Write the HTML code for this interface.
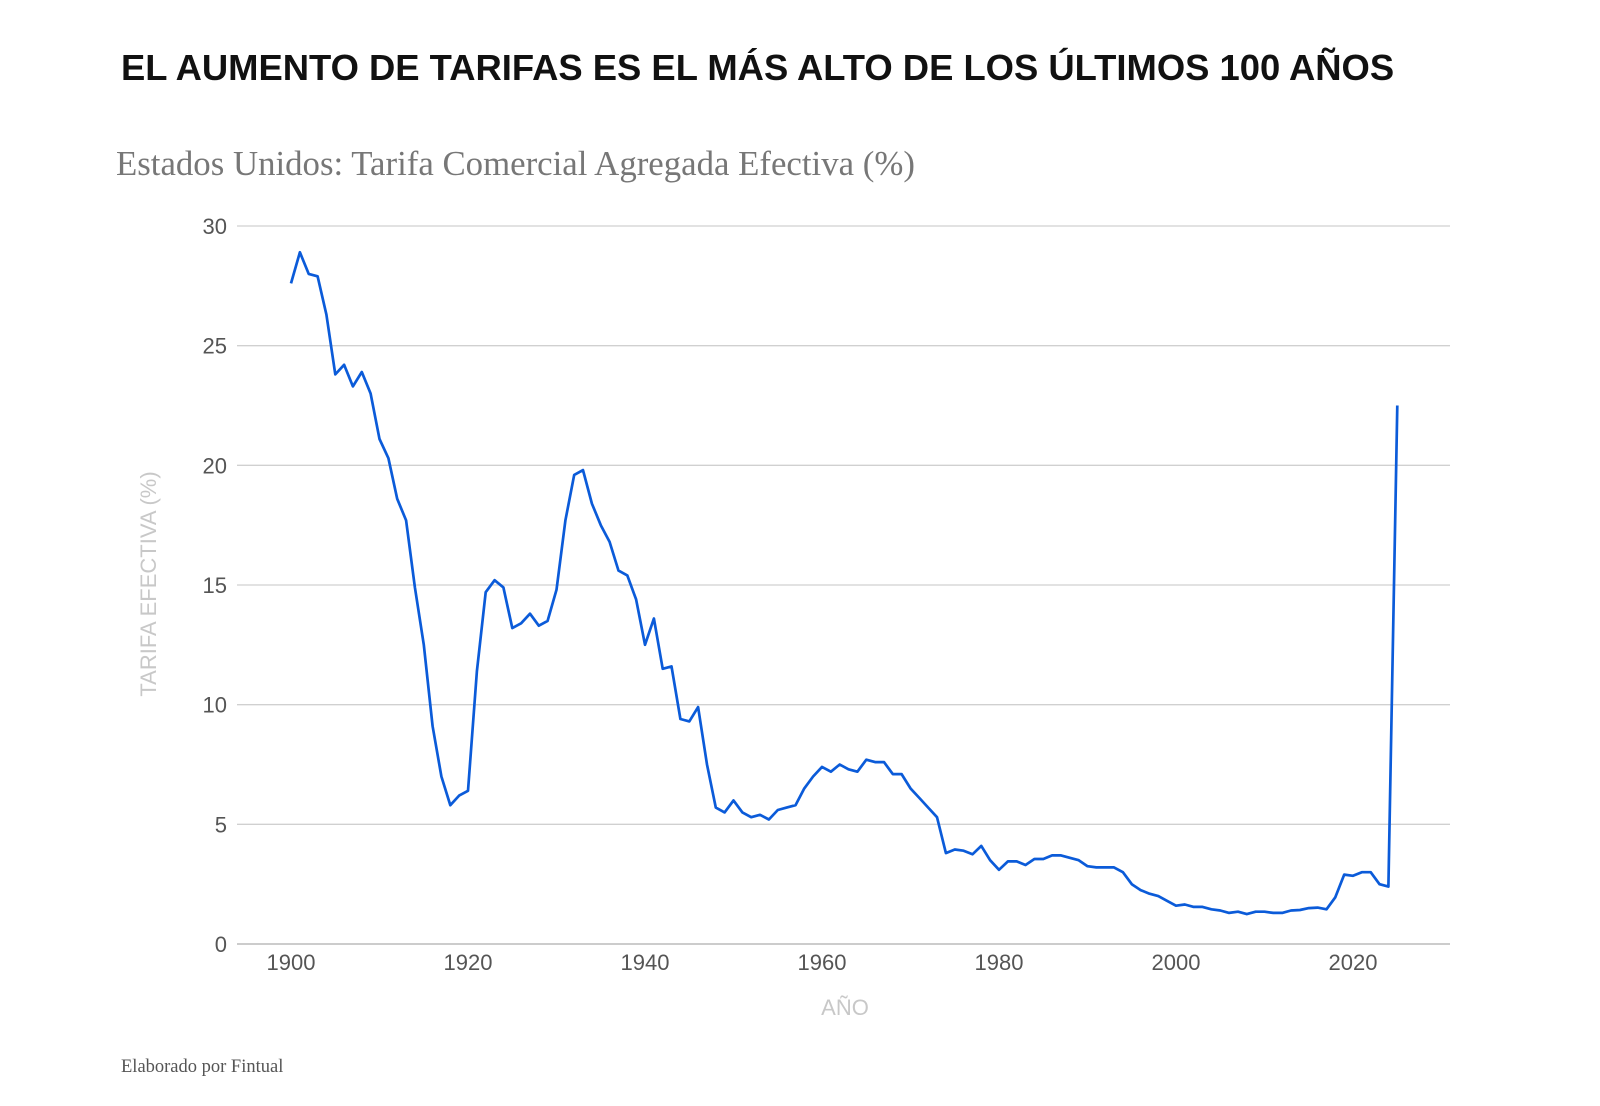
<!DOCTYPE html>
<html><head><meta charset="utf-8"><style>
body{margin:0;background:#fff;width:1600px;height:1106px;overflow:hidden}
svg{display:block}
</style></head><body>
<svg id="chart" width="1600" height="1106">
<text x="121" y="80" font-family="Liberation Sans, sans-serif" font-weight="bold" font-size="36.4" fill="#111">EL AUMENTO DE TARIFAS ES EL MÁS ALTO DE LOS ÚLTIMOS 100 AÑOS</text>
<text x="116" y="175" font-family="Liberation Serif, serif" font-size="34.8" fill="#777">Estados Unidos: Tarifa Comercial Agregada Efectiva (%)</text>
<g id="grid"></g><g id="yticks"></g><g id="xticks"></g>
<text x="0" y="0" transform="translate(156,584) rotate(-90)" text-anchor="middle" font-family="Liberation Sans, sans-serif" font-size="22" fill="#c8c8c8">TARIFA EFECTIVA (%)</text>
<text x="845" y="1015" text-anchor="middle" font-family="Liberation Sans, sans-serif" font-size="22" fill="#c8c8c8">AÑO</text>
<path id="line" fill="none" stroke="#0b5bd9" stroke-width="2.7" stroke-linejoin="round"/>
<text x="121" y="1072" font-family="Liberation Serif, serif" font-size="18.5" fill="#555">Elaborado por Fintual</text>
</svg>
<script>
const startYear = 1900;
const tariffValues = [27.6,28.9,28.0,27.9,26.3,23.8,24.2,23.3,23.9,23.0,21.1,20.3,18.6,17.7,14.9,12.5,9.1,7.0,5.8,6.2,6.4,11.4,14.7,15.2,14.9,13.2,13.4,13.8,13.3,13.5,14.8,17.7,19.6,19.8,18.4,17.5,16.8,15.6,15.4,14.4,12.5,13.6,11.5,11.6,9.4,9.3,9.9,7.5,5.7,5.5,6.0,5.5,5.3,5.4,5.2,5.6,5.7,5.8,6.5,7.0,7.4,7.2,7.5,7.3,7.2,7.7,7.6,7.6,7.1,7.1,6.5,6.1,5.7,5.3,3.8,3.95,3.9,3.75,4.1,3.5,3.1,3.45,3.45,3.3,3.55,3.55,3.7,3.7,3.6,3.5,3.25,3.2,3.2,3.2,3.0,2.5,2.25,2.1,2.0,1.8,1.6,1.65,1.55,1.55,1.45,1.4,1.3,1.35,1.25,1.35,1.35,1.3,1.3,1.4,1.42,1.5,1.52,1.45,1.95,2.9,2.85,3.0,3.0,2.5,2.4,22.5];
const yTicks = [0,5,10,15,20,25,30];
const xTicks = [1900,1920,1940,1960,1980,2000,2020];
const NS='http://www.w3.org/2000/svg';
function xs(yr){return 291+(yr-1900)*(1353-291)/120;}
function ys(v){return 944-v*(944-226)/30;}
const grid=document.getElementById('grid'),yt=document.getElementById('yticks'),xt=document.getElementById('xticks');
yTicks.forEach(v=>{
 const l=document.createElementNS(NS,'line');
 l.setAttribute('x1',237);l.setAttribute('x2',1450);l.setAttribute('y1',ys(v));l.setAttribute('y2',ys(v));
 l.setAttribute('stroke',v===0?'#bbb':'#d0d0d0');l.setAttribute('stroke-width',v===0?1.6:1.3);
 
 
 grid.appendChild(l);
 const t=document.createElementNS(NS,'text');
 t.setAttribute('x',227);t.setAttribute('y',ys(v)+8);t.setAttribute('text-anchor','end');
 t.setAttribute('font-family','Liberation Sans, sans-serif');t.setAttribute('font-size','22');t.setAttribute('fill','#555');
 t.textContent=v;
 
 
 yt.appendChild(t);
});
xTicks.forEach(yr=>{
 const t=document.createElementNS(NS,'text');
 t.setAttribute('x',xs(yr));t.setAttribute('y',970);t.setAttribute('text-anchor','middle');
 t.setAttribute('font-family','Liberation Sans, sans-serif');t.setAttribute('font-size','22');t.setAttribute('fill','#555');
 t.textContent=yr;
 
 
 xt.appendChild(t);
});
document.getElementById('line').setAttribute('d',tariffValues.map((v,i)=>(i?'L':'M')+xs(startYear+i).toFixed(1)+' '+ys(v).toFixed(1)).join(' '));
</script>
</body></html>
